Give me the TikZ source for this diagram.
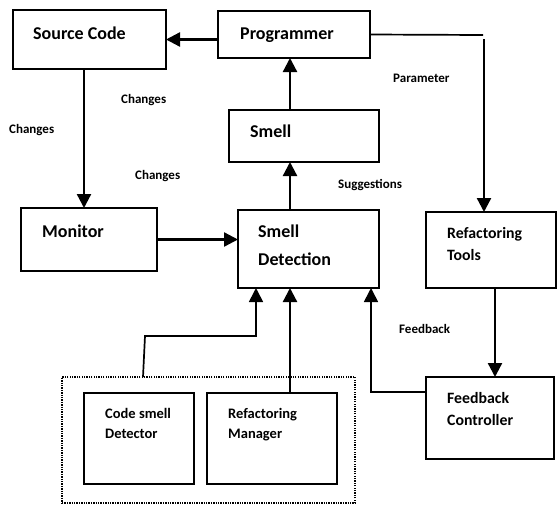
\documentclass[tikz,border=0pt]{standalone}
\usepackage{fontspec}
\setmainfont{Carlito}
\usetikzlibrary{arrows.meta}
\newcommand{\twoln}[2]{\vtop{\hbox{#1}\hbox{#2}}}
\begin{document}
\begin{tikzpicture}[x=1pt,y=-1pt,
  box/.style={draw,line width=1.8pt,rectangle,inner sep=0pt,outer sep=0pt},
  grpbox/.style={draw,line width=1.3pt,dash pattern=on 1.3pt off 1.1pt,rectangle,inner sep=0pt,outer sep=0pt},
  txt/.style={inner sep=0pt,anchor=base west,font=\bfseries},
  big/.style={font=\fontsize{18}{28}\selectfont\bfseries},
  mid/.style={font=\fontsize{15.8}{22}\selectfont\bfseries},
  small/.style={font=\fontsize{14.5}{20}\selectfont\bfseries},
  lbl/.style={font=\fontsize{13}{16}\selectfont\bfseries},
  tip/.style={-{Triangle[length=14pt,width=14pt]}},
  arr/.style={line width=2.3pt,tip},
  ln/.style={line width=1.7pt}]
\useasboundingbox (0,0) rectangle (559,504);

% boxes
\node[box,minimum width=153pt,minimum height=59pt] (src) at (89.5,39.5) {};
\node[box,minimum width=152pt,minimum height=47pt] (prog) at (294,34.5) {};
\node[box,minimum width=150pt,minimum height=52pt] (smell) at (304,136) {};
\node[box,minimum width=136pt,minimum height=63pt] (mon) at (89,239.5) {};
\node[box,minimum width=141pt,minimum height=78pt] (sd) at (308.5,249) {};
\node[box,minimum width=130pt,minimum height=76pt] (rt) at (491,250) {};
\node[box,minimum width=128pt,minimum height=82pt] (fc) at (490,418) {};
\node[grpbox,minimum width=293pt,minimum height=126pt] (grp) at (208.5,440) {};
\node[box,minimum width=110pt,minimum height=91pt] (csd) at (139,438.5) {};
\node[box,minimum width=130pt,minimum height=91pt] (rm) at (272,438.5) {};

% box texts
\node[txt,big] (tsrc) at (33,39) {Source Code};
\node[txt,big] (tprog) at (240,39) {Programmer};
\node[txt,big] (tsmell) at (250,137) {Smell};
\node[txt,big] (tmon) at (42,237) {Monitor};
\node[txt,big] (tsd) at (258,237) {\twoln{Smell}{Detection}};
\node[txt,mid] (trt) at (447,238) {\twoln{Refactoring}{Tools}};
\node[txt,mid] (tfc) at (447,403) {\twoln{Feedback}{Controller}};
\node[txt,small] (tcsd) at (105,418) {\twoln{Code smell}{Detector}};
\node[txt,small] (trm) at (228,418) {\twoln{Refactoring}{Manager}};

% connector labels
\node[txt,lbl] (lch1) at (121,103) {Changes};
\node[txt,lbl] (lch2) at (9,133) {Changes};
\node[txt,lbl] (lch3) at (135,179) {Changes};
\node[txt,lbl] (lpar) at (393,82) {Parameter};
\node[txt,lbl] (lsug) at (338,188) {Suggestions};
\node[txt,lbl] (lfb) at (399,333) {Feedback};

% columns and bends
\coordinate (xa) at (290,0);
\coordinate (xb) at (84,0);
\coordinate (xc) at (495,0);
\coordinate (xd) at (371,392);
\coordinate (xe) at (256,0);
\coordinate (pend) at (483,35);
\coordinate (pdown) at (484,39);
\coordinate (g1) at (143,377);
\coordinate (g2) at (145,336);
\coordinate (g3) at (256,336);

% connectors
\draw[arr] (prog.west |- src.east) -- (src.east);
\draw[ln] (prog.east) -- (pend);
\draw[arr] (pdown) -- (pdown |- rt.north);
\draw[arr] (smell.north -| xa) -- (prog.south -| xa);
\draw[arr] (sd.north -| xa) -- (smell.south -| xa);
\draw[arr] (src.south -| xb) -- (mon.north -| xb);
\draw[arr] (mon.east) -- (mon.east -| sd.west);
\draw[arr] (rt.south -| xc) -- (fc.north -| xc);
\draw[ln,tip] (fc.west |- xd) -- (xd) -- (xd |- sd.south);
\draw[arr] (rm.north -| xa) -- (sd.south -| xa);
\draw[ln,tip] (g1) -- (g2) -- (g3) -- (sd.south -| xe);
\end{tikzpicture}
\end{document}
